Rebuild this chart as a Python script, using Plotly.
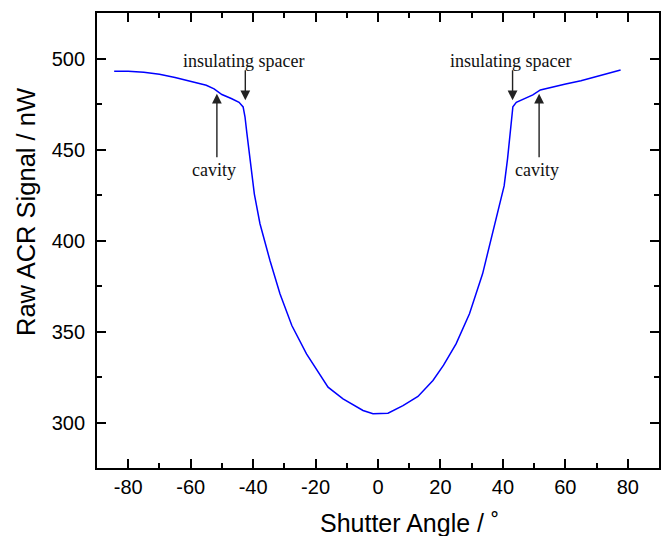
import plotly.graph_objects as go

# Data
angle = [-84.5, -80, -75, -70, -65, -60, -55, -52.5, -50, -47, -44.5, -43.2, -42.6,
         -42.0, -41.3, -40.5, -39.6, -37.8, -34.6, -31.4, -27.6, -22.9, -19.0, -16.0,
         -11.2, -4.8, -1.6, 3.2, 8.0, 12.8, 17.6, 21.0, 25.0, 29.3, 33.5, 36.7, 38.8,
         40.4, 41.5, 42.3, 43.2, 44.3, 47.0, 49.6, 52.0, 55.0, 60.1, 65.0, 69.5, 74.0, 77.7]
signal = [493.0, 493.0, 492.4, 491.3, 489.6, 487.6, 485.3, 483.3, 480.2, 478.0, 475.9, 473.4, 468.0,
          459.0, 449.0, 438.0, 425.5, 409.2, 389.0, 370.7, 353.3, 337.7, 327.0, 319.4,
          313.0, 306.6, 304.8, 305.1, 309.3, 314.3, 323.1, 331.5, 343.2, 359.7, 381.7, 403.7, 418.3,
          430.0, 445.0, 460.0, 473.5, 475.9, 478.0, 480.0, 482.7, 484.0, 486.0, 487.8, 490.0, 492.0, 493.7]

x_ticks = [-80, -60, -40, -20, 0, 20, 40, 60, 80]
y_ticks = [300, 350, 400, 450, 500]
x_range = [-90, 90]
y_range = [275, 525]

# annotation positions (data coordinates)
spacer_x = [-42.5, 43.1]
cavity_x = [-51.6, 51.6]
spacer_text_x = [-43.1, 42.5]
cavity_text_x = [-52.6, 50.8]

fig = go.Figure()
fig.add_trace(go.Scatter(x=angle, y=signal, mode="lines",
                         line=dict(color="#0000FF", width=1.5), showlegend=False))
# empty trace so the tick-only overlay axis is drawn
fig.add_trace(go.Scatter(x=[], y=[], yaxis="y2", showlegend=False, hoverinfo="skip"))

serif = "Liberation Serif, Times New Roman, serif"
sans = "Liberation Sans, Arial, sans-serif"
ann = []
for sx, tx in zip(spacer_x, spacer_text_x):
    ann.append(dict(x=sx, y=477.0, ax=sx, ay=494.3, xref="x", yref="y", axref="x", ayref="y",
                    text="", showarrow=True, arrowhead=2, arrowsize=1.4, arrowwidth=1.4,
                    arrowcolor="#222222", standoff=0, startstandoff=0))
    ann.append(dict(x=tx, y=498.5, xref="x", yref="y", text="insulating spacer", showarrow=False,
                    font=dict(family=serif, size=18, color="#111111")))
for cx, tx in zip(cavity_x, cavity_text_x):
    ann.append(dict(x=cx, y=480.6, ax=cx, ay=444.9, xref="x", yref="y", axref="x", ayref="y",
                    text="", showarrow=True, arrowhead=2, arrowsize=1.4, arrowwidth=1.4,
                    arrowcolor="#222222", standoff=0, startstandoff=0))
    ann.append(dict(x=tx, y=438.5, xref="x", yref="y", text="cavity", showarrow=False,
                    font=dict(family=serif, size=18, color="#111111")))

# axis titles placed as paper annotations (plot area spans x 97..659 px, y 13..468 px)
ann.append(dict(x=(318 - 97) / 562, y=(468 - 523) / 455, xref="paper", yref="paper",
                xanchor="left", yanchor="middle", text="Shutter Angle / ˚", showarrow=False,
                font=dict(family=sans, size=25, color="black")))
ann.append(dict(x=(26 - 97) / 562, y=(468 - 212) / 455, xref="paper", yref="paper",
                xanchor="center", yanchor="middle", textangle=-90, text="Raw ACR Signal / nW",
                showarrow=False, font=dict(family=sans, size=25.5, color="black")))

fig.update_layout(
    width=665, height=536,
    margin=dict(l=97, r=6, t=13, b=68, autoexpand=False),
    paper_bgcolor="white", plot_bgcolor="white",
    font=dict(family=sans, color="black"),
    annotations=ann,
    xaxis=dict(range=x_range, tickvals=x_ticks, ticktext=[str(v) for v in x_ticks],
               ticks="inside", ticklen=9, tickwidth=1.5, tickcolor="black",
               minor=dict(ticks="inside", ticklen=5, tickwidth=1.5, dtick=10, tick0=0, tickcolor="black"),
               showline=True, linecolor="black", linewidth=1.8, mirror="ticks",
               showgrid=False, zeroline=False, automargin=False,
               tickfont=dict(size=20, family=sans)),
    # labelled axis (no ticks, so labels sit close to the frame)
    yaxis=dict(range=y_range, tickvals=y_ticks, ticktext=[str(v) for v in y_ticks],
               ticks="", showline=True, linecolor="black", linewidth=1.8, mirror=True,
               showgrid=False, zeroline=False, automargin=False, ticklabelstandoff=6,
               tickfont=dict(size=20, family=sans)),
    # tick-only overlay axis with inside major/minor ticks on both sides
    yaxis2=dict(range=y_range, overlaying="y", side="left", anchor="x",
                tickvals=y_ticks, showticklabels=False,
                ticks="inside", ticklen=9, tickwidth=1.5, tickcolor="black",
                minor=dict(ticks="inside", ticklen=5, tickwidth=1.5, dtick=25, tick0=0, tickcolor="black"),
                showline=True, linecolor="black", linewidth=1.8, mirror="ticks",
                showgrid=False, zeroline=False, automargin=False),
)
fig.write_html("out.html", config={"displayModeBar": False},
               post_script="document.body.style.margin='0px';")
